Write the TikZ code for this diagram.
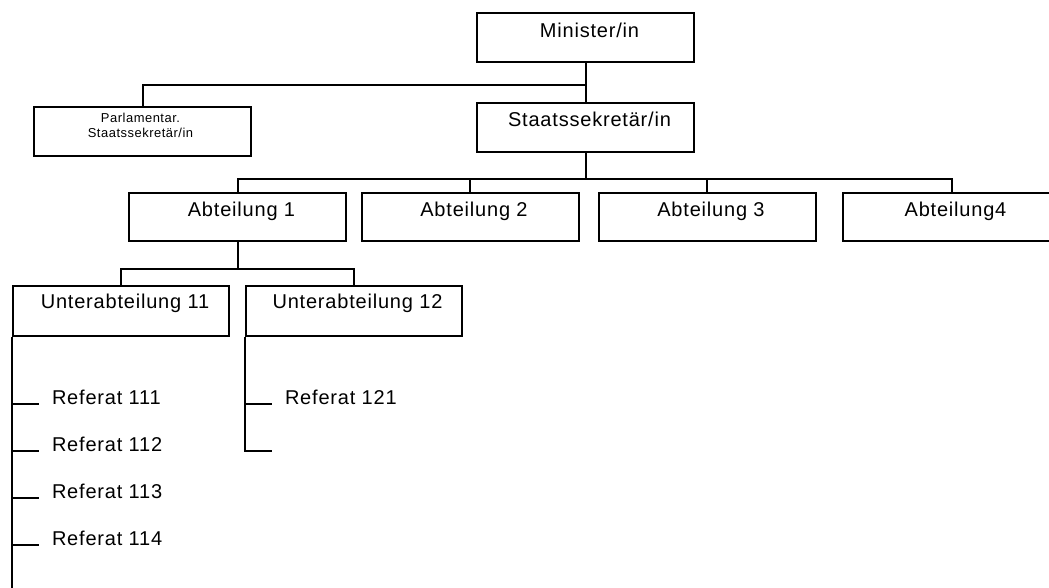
\documentclass[tikz,border=0pt]{standalone}
\usepackage{fontspec}
\setmainfont{Liberation Sans}[LetterSpace=4]

\tikzset{
  orgbox/.style={draw, line width=1.5pt, minimum width=162.75pt, inner ysep=0pt,
    text height=17.5pt, text depth=19pt, execute at begin node={\hspace*{6pt}}},
  subbox/.style={orgbox, minimum width=162pt, text height=17pt, text depth=20.5pt},
  refnode/.style={anchor=base west, inner xsep=9pt, inner ysep=0pt},
}

\begin{document}
\begin{tikzpicture}[x=0.75pt, y=-0.75pt, line width=1.5pt,
    font=\fontsize{15}{17}\selectfont]
    \clip (0,0) rectangle (1049,587);
    % top level
    \node[orgbox, text height=18.5pt, text depth=18pt] (min) at (585.5,37.5) {Minister/in};
    \node[orgbox] (sts) at (585.5,127.5) {Staatssekretär/in};
    \node[orgbox, align=center, font=\fontsize{9.7}{10.8}\selectfont, text height=22.5pt,
      text depth=14.25pt, execute at begin node={}] (parl) at (142.5,131.5)
      {Parlamentar.\hspace*{9pt}\\Staatssekretär/in\hspace*{9pt}};
    % Abteilungen
    \node[orgbox] (abt1) at (237.5,217) {Abteilung 1};
    \node[orgbox] (abt2) at (470,217) {Abteilung 2};
    \node[orgbox] (abt3) at (707,217) {Abteilung 3};
    \node[orgbox] (abt4) at (951.5,217) {Abteilung4};
    \node[subbox] (ua11) at (121,311) {Unterabteilung 11};
    \node[subbox] (ua12) at (353.5,311) {Unterabteilung 12};
    % Referate
    \node[refnode] (ref111) at (39,404) {Referat 111};
    \node[refnode] (ref112) at (39,451) {Referat 112};
    \node[refnode] (ref113) at (39,498) {Referat 113};
    \node[refnode] (ref114) at (39,545) {Referat 114};
    \node[refnode] (ref121) at (272,404) {Referat 121};
    \coordinate (end11) at (12,590);
    \coordinate (end12) at (272,451);
    % lines
    \draw (min.south) -- (sts.north);
    \draw (min.south) -- ++(0,22) -| (parl.north);
    \foreach \n in {1,...,4}
      \draw (sts.south) -- ++(0,26) -| (abt\n.north);
    \foreach \n in {11,12}
      \draw (abt1.south) -- ++(0,27) -| (ua\n.north);
    \draw (ua11.south west) -- (ua11.south west |- end11);
    \foreach \n in {111,...,114}
      \draw (ua11.south west |- ref\n.base west) -- (ref\n.base west);
    \draw (ua12.south west) |- (end12);
    \draw (ua12.south west |- ref121.base west) -- (ref121.base west);
\end{tikzpicture}
\end{document}
